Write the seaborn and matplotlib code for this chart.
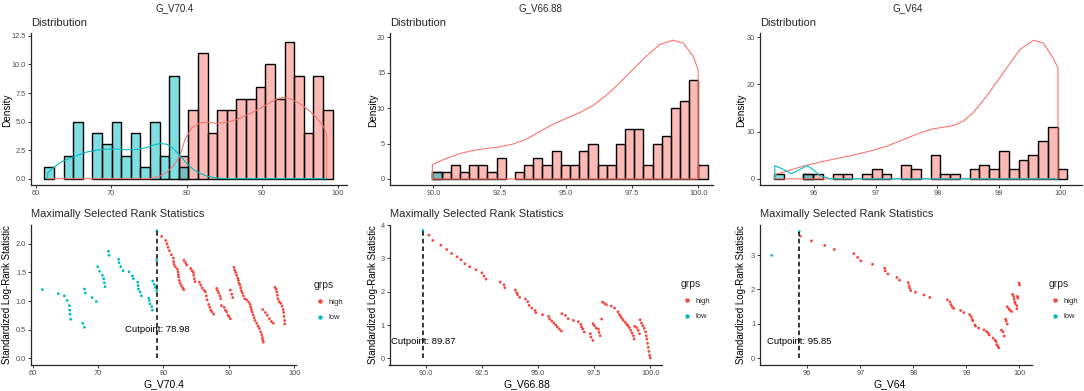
import numpy as np
import pandas as pd
import matplotlib
matplotlib.use('Agg')
import matplotlib.pyplot as plt
import seaborn as sns

sns.set_style('ticks')
plt.rcParams['font.family'] = ['Liberation Sans', 'DejaVu Sans']

RED = '#F8766D'
CYAN = '#00BFC4'
DOT_RED = '#F5453C'

# ---------------- data ----------------
titles = ['G_V70.4', 'G_V66.88', 'G_V64']
cutpoints = [78.98, 89.87, 95.85]

# histograms: first bin edge, bin width, counts in 30 bins
h1_start, h1_width = 61.14, 1.273
h1_high = [0, 0, 0, 0, 0, 0, 0, 0, 0, 0, 0, 0, 0, 0, 2,
           6, 11, 4, 6, 6, 7, 7, 8, 10, 7, 12, 9, 4, 9, 6]
h1_low = [1, 0, 2, 5, 0, 4, 3, 5, 2, 4, 1, 5, 2, 9, 1,
          0, 0, 0, 0, 0, 0, 0, 0, 0, 0, 0, 0, 0, 0, 0]

h2_start, h2_width = 89.96, 0.3465
h2_high = [1, 1, 2, 1, 2, 2, 1, 3, 0, 1, 2, 3, 2, 4, 2,
           2, 4, 5, 2, 2, 5, 7, 7, 2, 5, 6, 10, 11, 14, 2]
h2_low = [1, 0, 0, 0, 0, 0, 0, 0, 0, 0, 0, 0, 0, 0, 0,
          0, 0, 0, 0, 0, 0, 0, 0, 0, 0, 0, 0, 0, 0, 0]

h3_start, h3_width = 95.35, 0.1588
h3_high = [0, 0, 0, 1, 1, 0, 1, 1, 0, 1, 2, 1, 0, 3, 2,
           0, 5, 1, 1, 0, 2, 3, 2, 6, 2, 4, 5, 8, 11, 2]
h3_low = [1, 0, 0, 1, 0, 0, 0, 0, 0, 0, 0, 0, 0, 0, 0,
          0, 0, 0, 0, 0, 0, 0, 0, 0, 0, 0, 0, 0, 0, 0]

# density outlines
k1_high_x = [61.59, 75.14, 76.47, 77.35, 78.23, 79.12, 79.78, 80.66, 81.77, 82.87, 83.97, 85.30,
             86.62, 87.95, 89.27, 90.60, 91.92, 92.80, 93.69, 95.01, 96.34, 97.44, 98.10, 98.54, 98.54]
k1_high_y = [0.0, 0.0, 0.23, 0.58, 1.10, 2.00, 3.43, 4.45, 4.88, 4.94, 4.83, 4.94,
             5.17, 5.55, 5.99, 6.48, 6.98, 7.12, 7.00, 6.57, 5.90, 5.17, 4.59, 3.87, 0.0]
k1_low_x = [61.59, 61.59, 62.34, 63.22, 64.11, 65.43, 66.75, 68.08, 69.40, 70.73, 72.05, 73.38,
            74.70, 75.59, 76.47, 77.35, 78.23, 79.12, 80.00, 80.88, 81.77, 82.65, 83.97, 85.74, 98.54]
k1_low_y = [0.0, 0.52, 0.96, 1.40, 1.69, 2.03, 2.33, 2.50, 2.59, 2.59, 2.53, 2.56,
            2.73, 2.94, 3.08, 3.02, 2.65, 2.03, 1.34, 0.81, 0.47, 0.23, 0.06, 0.0, 0.0]

k2_high_x = [89.96, 89.96, 90.44, 90.95, 91.46, 91.96, 92.47, 92.97, 93.48, 93.99, 94.49, 95.00,
             95.51, 96.01, 96.52, 97.03, 97.53, 98.04, 98.54, 99.05, 99.43, 99.81, 100.0, 100.0, 89.96]
k2_high_y = [0.0, 2.02, 2.82, 3.53, 4.00, 4.28, 4.52, 4.89, 5.55, 6.64, 7.67, 8.52,
             9.32, 10.35, 11.76, 13.55, 15.44, 17.32, 18.96, 19.58, 19.20, 17.30, 15.40, 0.0, 0.0]

k3_high_x = [95.36, 95.36, 95.55, 95.82, 96.09, 96.36, 96.63, 96.90, 97.18, 97.45, 97.72, 97.93,
             98.10, 98.26, 98.42, 98.58, 98.80, 99.07, 99.34, 99.56, 99.72, 99.88, 99.96, 99.96, 95.36]
k3_high_y = [0.0, 0.92, 1.62, 2.68, 3.53, 4.30, 5.01, 5.86, 6.92, 8.33, 9.74, 10.59,
             10.94, 11.29, 12.21, 13.97, 17.50, 22.44, 27.38, 29.36, 28.80, 25.60, 23.50, 0.0, 0.0]
k3_low_x = [95.36, 95.36, 95.50, 95.63, 95.77, 95.88, 95.98, 96.09, 96.25, 96.42, 99.96]
k3_low_y = [0.0, 2.80, 2.00, 1.10, 2.00, 2.80, 2.00, 0.70, 0.07, 0.0, 0.0]

# maximally selected rank statistics
s1_low_x = [61.48, 63.92, 64.84, 65.25, 65.61, 65.66, 65.71, 65.81, 67.65, 67.90,
            67.90, 68.05, 69.07, 69.73, 69.94, 70.24, 70.65, 70.86, 70.96, 71.06,
            71.57, 71.67, 73.15, 73.20, 73.46, 73.81, 74.73, 75.24, 75.39, 76.06,
            76.11, 76.16, 76.41, 76.62, 77.74, 77.84, 77.94, 78.20, 78.30, 78.35,
            78.60, 78.76, 78.96, 78.97, 78.98]
s1_low_y = [1.20, 1.13, 1.09, 1.01, 0.92, 0.84, 0.77, 0.68, 0.61, 0.54,
            1.21, 1.14, 1.06, 0.99, 1.60, 1.52, 1.45, 1.39, 1.32, 1.25,
            1.87, 1.80, 1.73, 1.67, 1.60, 1.53, 1.51, 1.44, 1.39, 1.33,
            1.27, 1.21, 1.16, 1.09, 1.05, 1.01, 0.95, 0.90, 0.84, 1.35,
            1.29, 1.24, 1.18, 1.71, 2.23]
s1_high_x = [79.72, 80.34, 80.54, 80.69, 80.90, 81.20, 81.51, 81.56, 81.61, 81.81,
             82.12, 82.22, 82.27, 82.32, 82.43, 82.53, 82.73, 82.94, 83.09,
             83.14, 83.39, 83.55, 84.16, 84.36, 84.57, 84.62, 84.72, 84.82,
             85.48, 85.69, 85.89, 86.20, 86.40, 86.55, 86.66, 86.91, 87.06, 87.22, 87.42, 87.68,
             88.13, 88.29, 88.44, 88.64, 88.75, 88.85, 89.26, 89.46, 89.66, 89.87, 90.02, 90.22,
             90.22, 90.43, 90.58,
             90.78, 90.89, 91.04, 91.19, 91.35, 91.45, 91.55, 91.70, 91.80, 91.91,
             92.06, 92.21, 92.42, 92.72, 93.03, 93.23, 93.33, 93.44, 93.54, 93.69,
             93.84, 93.99, 94.25, 94.45, 94.66, 94.86, 95.02, 95.12, 95.17, 95.27,
             95.17, 95.58, 95.88, 96.19, 96.49, 96.80,
             97.05, 97.21, 97.31, 97.41, 97.51, 97.67, 97.92, 98.12, 98.28, 98.38, 98.43, 98.53, 98.53]
s1_high_y = [2.13, 2.06, 2.00, 1.94, 1.88, 1.81, 1.75, 1.69, 1.64, 1.60,
             1.56, 1.51, 1.46, 1.42, 1.36, 1.31, 1.27, 1.23, 1.20,
             1.71, 1.67, 1.63, 1.57, 1.53, 1.50, 1.45, 1.39, 1.34,
             1.33, 1.28, 1.23, 1.19, 1.16, 1.09, 1.02, 0.94, 0.89, 0.84, 0.81, 0.77,
             1.22, 1.18, 1.14, 1.09, 1.04, 0.92, 0.89, 0.84, 0.81, 0.75, 0.73, 0.69,
             1.19, 1.12, 1.06,
             1.59, 1.54, 1.50, 1.45, 1.40, 1.36, 1.31, 1.28, 1.23, 1.18,
             1.14, 1.09, 1.04, 1.02, 0.98, 0.94, 0.89, 0.85, 0.81, 0.76,
             0.71, 0.66, 0.61, 0.56, 0.52, 0.46, 0.41, 0.36, 0.32, 0.28,
             0.85, 0.80, 0.75, 0.69, 0.64, 0.61,
             1.24, 1.21, 1.16, 1.10, 1.04, 0.99, 0.96, 0.91, 0.85, 0.80, 0.73, 0.66, 0.60]

s2_low_x = [89.87]
s2_low_y = [3.84]
s2_high_x = [90.13, 90.31, 90.67, 90.93, 91.15, 91.39, 91.57, 91.74, 91.95, 92.23,
             92.50, 92.59, 92.68, 93.31, 93.48, 93.52, 93.99, 94.05, 94.09, 94.18,
             94.44, 94.54, 94.60, 94.72, 94.87, 94.90, 95.20, 95.47, 95.52, 95.61,
             95.70, 95.79, 95.86, 95.95, 96.04, 96.06, 96.22, 96.34, 96.58, 96.79,
             96.91, 96.94, 96.99, 97.06, 97.33, 97.36, 97.44, 97.45, 97.51, 97.59,
             97.69, 97.72, 97.77, 97.83, 97.87, 97.96, 98.05, 98.26, 98.41, 98.56,
             98.62, 98.68, 98.74, 98.80, 98.89, 98.95, 99.01, 99.07, 99.13, 99.19,
             99.25, 99.28, 99.31, 99.40, 99.46, 99.52, 99.55, 99.61, 99.67, 99.73,
             99.79, 99.82, 99.85, 99.88, 99.91, 99.94, 99.97, 100.0]
s2_high_y = [3.70, 3.54, 3.40, 3.27, 3.15, 3.05, 2.96, 2.84, 2.75, 2.66,
             2.57, 2.47, 2.38, 2.29, 2.21, 2.12, 2.05, 1.97, 1.91, 1.83,
             1.78, 1.70, 1.59, 1.51, 1.44, 1.37, 1.31, 1.26, 1.18, 1.12,
             1.06, 1.00, 0.94, 0.88, 0.82, 1.34, 1.29, 1.19, 1.14, 1.10,
             1.02, 0.94, 0.88, 0.79, 0.74, 0.64, 0.54, 1.04, 0.98, 0.91,
             0.88, 0.78, 0.68, 1.18, 1.69, 1.65, 1.61, 1.57, 1.51, 1.40,
             1.32, 1.26, 1.20, 1.14, 1.08, 1.02, 0.98, 0.92, 0.84, 0.76,
             0.68, 0.58, 0.96, 0.92, 0.84, 0.74, 1.16, 1.06, 0.98, 0.90,
             0.80, 0.68, 0.58, 0.45, 0.33, 0.21, 0.09, 0.01]

s3_low_x = [95.33, 95.85]
s3_low_y = [2.99, 3.68]
s3_high_x = [95.87, 96.08, 96.33, 96.51, 96.88, 96.95, 97.01, 97.23, 97.46, 97.47,
             97.52, 97.69, 97.74, 97.90, 97.92, 97.93, 97.95, 98.04, 98.20, 98.31,
             98.64, 98.69, 98.71, 98.73, 98.76, 98.89, 98.95, 99.06, 99.09, 99.11,
             99.12, 99.16, 99.17, 99.23, 99.33, 99.38, 99.41, 99.43, 99.50, 99.54,
             99.56, 99.57, 99.59, 99.61, 99.66, 99.69, 99.71, 99.74, 99.75, 99.77,
             99.77, 99.80, 99.82, 99.85, 99.87, 99.89, 99.90, 99.91, 99.92, 99.95,
             99.95, 99.96, 99.97, 99.99, 100.0]
s3_high_y = [3.55, 3.41, 3.28, 3.16, 3.04, 2.93, 2.83, 2.73, 2.62, 2.54,
             2.45, 2.35, 2.27, 2.20, 2.11, 2.04, 1.97, 1.92, 1.84, 1.77,
             1.70, 1.64, 1.56, 1.50, 1.45, 1.39, 1.33, 1.27, 1.21, 1.13,
             1.09, 0.97, 0.94, 0.88, 0.83, 0.78, 0.74, 0.68, 0.59, 0.53,
             0.49, 0.40, 0.36, 0.31, 0.82, 0.77, 0.65, 1.14, 1.09, 1.00,
             1.50, 1.44, 1.40, 1.36, 1.86, 1.80, 1.72, 1.64, 1.59, 1.53,
             1.44, 1.80, 1.75, 2.19, 2.13]

# ---------------- figure ----------------
W, H = 1084, 391
fig = plt.figure(figsize=(W / 100, H / 100), dpi=100)


def px_axes(l, t, r, b):
    return fig.add_axes([l / W, 1 - b / H, (r - l) / W, (b - t) / H])


def place_label(ax, axis, text, x, y, size):
    pos = ax.get_position()
    ax_x = (x / W - pos.x0) / pos.width
    ax_y = (1 - y / H - pos.y0) / pos.height
    a = ax.xaxis if axis == 'x' else ax.yaxis
    a.set_label_text(text, fontsize=size, color='black')
    a.label.set_va('center')
    a.set_label_coords(ax_x, ax_y)


def style(ax, xlim, ylim, xticks, xlabels, yticks, ylabels):
    ax.set_xlim(*xlim)
    ax.set_ylim(*ylim)
    ax.set_xticks(xticks, xlabels)
    ax.set_yticks(yticks, ylabels)
    sns.despine(ax=ax)
    for s in ['left', 'bottom']:
        ax.spines[s].set_linewidth(0.9)
    ax.tick_params(length=2.2, width=0.7, pad=1.3, labelsize=5.3,
                   labelcolor='#4D4D4D', color='#333333')


def draw_hist(ax, start, width, high, low):
    edges = start + width * np.arange(len(high) + 1)
    mids = (edges[:-1] + edges[1:]) / 2
    for counts, col in [(high, RED), (low, CYAN)]:
        d = pd.DataFrame({'x': mids, 'n': counts})
        sns.histplot(data=d, x='x', weights='n', bins=edges.tolist(), color=col, alpha=0.5,
                     edgecolor='black', linewidth=1.0, ax=ax)
    for p in ax.patches:
        if p.get_height() == 0:
            p.set_visible(False)


def draw_kde(ax, xs, ys, col):
    sns.lineplot(x=xs, y=ys, sort=False, estimator=None, color=col,
                 linewidth=0.8, ax=ax)


def draw_stat(ax, lx, ly, hx, hy, cut, legend_xy):
    df = pd.DataFrame({'x': hx + lx, 'stat': hy + ly,
                       'grps': ['high'] * len(hx) + ['low'] * len(lx)})
    sns.scatterplot(data=df, x='x', y='stat', hue='grps', hue_order=['high', 'low'],
                    palette={'high': DOT_RED, 'low': CYAN}, s=4, linewidth=0, ax=ax)
    ax.vlines(cut, 0, df['stat'].max(), colors='black', linestyles=(0, (3, 2)),
              linewidth=1.1, zorder=4)
    ax.text(cut, 0.5, f'Cutpoint: {cut:.2f}', ha='center', va='center',
            fontsize=6.8, color='black', zorder=3)
    sns.move_legend(ax, 'upper left', bbox_to_anchor=(legend_xy[0] / W, 1 - legend_xy[1] / H),
                    bbox_transform=fig.transFigure, frameon=False, title='grps',
                    fontsize=5.5, title_fontsize=7.4, markerscale=1.6, borderpad=0,
                    handletextpad=0.3, labelspacing=1.1, handlelength=1.6, alignment='left')


top_boxes = [(31, 33, 347, 185), (390, 33, 713.3, 185), (760, 33, 1082, 185)]
bot_boxes = [(31, 225, 296, 365), (389.5, 224.5, 661.7, 365), (760, 225, 1031.7, 365)]
title_x = [175, 540, 908]
dens_label_x = [7, 372.7, 740.7]
stat_label_x = [7.3, 373, 740.7]
xlab_x = [163.5, 526.7, 890]

# top row: distributions
ax = px_axes(*top_boxes[0])
draw_hist(ax, h1_start, h1_width, h1_high, h1_low)
draw_kde(ax, k1_high_x, k1_high_y, RED)
draw_kde(ax, k1_low_x, k1_low_y, CYAN)
style(ax, (59.38, 101.24), (-0.55, 12.75), [60, 70, 80, 90, 100], ['60', '70', '80', '90', '100'],
      [0, 2.5, 5, 7.5, 10, 12.5], ['0.0', '2.5', '5.0', '7.5', '10.0', '12.5'])
top_axes = [ax]

ax = px_axes(*top_boxes[1])
draw_hist(ax, h2_start, h2_width, h2_high, h2_low)
draw_kde(ax, k2_high_x, k2_high_y, RED)
style(ax, (88.36, 100.57), (-0.85, 20.6), [90, 92.5, 95, 97.5, 100],
      ['90.0', '92.5', '95.0', '97.5', '100.0'], [0, 5, 10, 15, 20], ['0', '5', '10', '15', '20'])
top_axes.append(ax)

ax = px_axes(*top_boxes[2])
draw_hist(ax, h3_start, h3_width, h3_high, h3_low)
draw_kde(ax, k3_high_x, k3_high_y, RED)
draw_kde(ax, k3_low_x, k3_low_y, CYAN)
style(ax, (95.12, 100.35), (-1.3, 30.9), [96, 97, 98, 99, 100], ['96', '97', '98', '99', '100'],
      [0, 10, 20, 30], ['0', '10', '20', '30'])
top_axes.append(ax)

# bottom row: maximally selected rank statistics
ax = px_axes(*bot_boxes[0])
draw_stat(ax, s1_low_x, s1_low_y, s1_high_x, s1_high_y, cutpoints[0], (310, 276))
style(ax, (59.74, 100.26), (-0.12, 2.33), [60, 70, 80, 90, 100], ['60', '70', '80', '90', '100'],
      [0, 0.5, 1, 1.5, 2], ['0.0', '0.5', '1.0', '1.5', '2.0'])
bot_axes = [ax]

ax = px_axes(*bot_boxes[1])
draw_stat(ax, s2_low_x, s2_low_y, s2_high_x, s2_high_y, cutpoints[1], (676.7, 275))
style(ax, (88.38, 100.51), (-0.2, 4.02), [90, 92.5, 95, 97.5, 100],
      ['90.0', '92.5', '95.0', '97.5', '100.0'], [0, 1, 2, 3, 4], ['0', '1', '2', '3', '4'])
bot_axes.append(ax)

ax = px_axes(*bot_boxes[2])
draw_stat(ax, s3_low_x, s3_low_y, s3_high_x, s3_high_y, cutpoints[2], (1045, 275))
style(ax, (95.11, 100.23), (-0.19, 3.87), [96, 97, 98, 99, 100], ['96', '97', '98', '99', '100'],
      [0, 1, 2, 3], ['0', '1', '2', '3'])
bot_axes.append(ax)

for i in range(3):
    ta, ba = top_axes[i], bot_axes[i]
    fig.text(title_x[i] / W, 1 - 8 / H, titles[i], ha='center', va='center', fontsize=7)
    fig.text(top_boxes[i][0] / W, 1 - 23 / H, 'Distribution', ha='left', va='center', fontsize=8)
    fig.text(bot_boxes[i][0] / W, 1 - 214 / H, 'Maximally Selected Rank Statistics',
             ha='left', va='center', fontsize=8)
    place_label(ta, 'x', '', 0, 0, 7)
    place_label(ta, 'y', 'Density', dens_label_x[i], 110, 7.2)
    place_label(ba, 'y', 'Standardized Log-Rank Statistic', stat_label_x[i], 295, 7.0)
    place_label(ba, 'x', titles[i], xlab_x[i], 384, 7.5)

fig.savefig('out.png', dpi=100)
